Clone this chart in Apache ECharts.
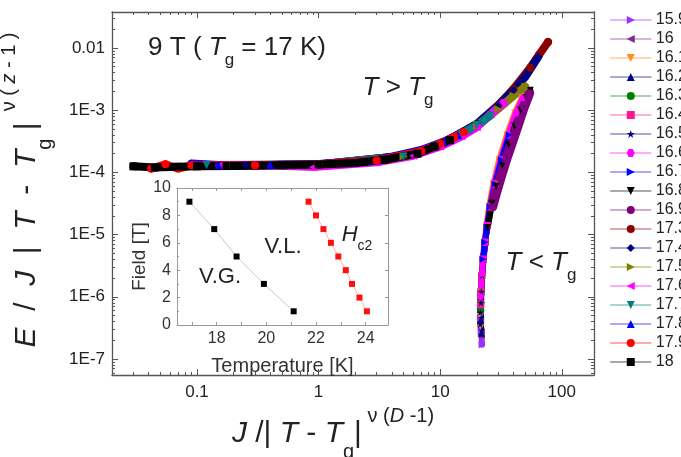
<!DOCTYPE html>
<html>
<head>
<meta charset="utf-8">
<script src="https://cdn.jsdelivr.net/npm/echarts@6/dist/echarts.min.js"></script>
<style>
html, body { margin: 0; padding: 0; background: #fff; }
#main { width: 681px; height: 457px; }
</style>
</head>
<body>
<div id="main"></div>
<script>
// legend order = draw order (later ones sit on top)
var temps = ['15.9', '16', '16.1', '16.2', '16.3', '16.4', '16.5', '16.6', '16.7', '16.8', '16.9',
             '17.3', '17.4', '17.5', '17.6', '17.7', '17.8', '17.9', '18'];

// T < Tg branch, [J/|T-Tg|^.., E/J|T-Tg|^..]
var s15_9 = [[22.1, 1.7e-7], [21.7, 2.8e-7], [21.4, 4.5e-7], [21.4, 7e-7], [21.6, 1.2e-6], [22.0, 2.2e-6], [22.6, 4e-6], [23.4, 7.5e-6], [24.4, 1.4e-5], [25.8, 2.8e-5]];
var s16_0 = [[21.8, 2.4e-7], [21.5, 4e-7], [21.4, 7e-7], [21.6, 1.2e-6], [22.0, 2.2e-6], [22.6, 4e-6], [23.4, 7.5e-6], [24.4, 1.4e-5], [25.8, 2.8e-5], [28.3, 6.5e-5]];
var s16_1 = [[21.5, 3.2e-7], [21.3, 4.8e-7], [21.3, 7e-7], [21.5, 1.2e-6], [21.9, 2.2e-6], [22.4, 4e-6], [23.1, 7.5e-6], [24.0, 1.4e-5], [25.2, 2.8e-5], [27.3, 6.5e-5], [30.5, 1.6e-4], [35.3, 4e-4], [41.0, 9e-4], [47.0, 1.6e-3]];
var s16_2 = [[21.8, 2.6e-7], [21.5, 4.2e-7], [21.4, 7e-7], [21.6, 1.2e-6], [22.0, 2.2e-6], [22.6, 4e-6], [23.4, 7.5e-6], [24.4, 1.4e-5]];
var s16_3 = [[21.6, 6e-7], [21.6, 8e-7], [21.7, 1.2e-6], [22.0, 2.2e-6], [22.6, 4e-6], [23.4, 7.5e-6], [24.4, 1.4e-5], [25.8, 2.8e-5]];
var s16_4 = [[21.6, 7.5e-7], [21.7, 1.2e-6], [22.0, 2.2e-6], [22.6, 4e-6], [23.4, 7.5e-6], [24.4, 1.4e-5], [25.8, 2.8e-5], [28.3, 6.5e-5]];
var s16_5 = [[21.9, 2.9e-7], [21.4, 3.6e-7], [21.7, 4.6e-7], [21.4, 5.6e-7], [21.7, 8e-7], [21.8, 1.2e-6], [22.1, 2.2e-6], [22.7, 4e-6], [23.5, 7.5e-6]];
var s16_6 = [[21.5, 1e-6], [21.8, 1.6e-6], [22.1, 2.4e-6], [22.6, 4e-6], [23.3, 7.5e-6], [24.2, 1.4e-5], [25.5, 2.8e-5], [27.8, 6.5e-5], [31.3, 1.6e-4], [36.2, 4e-4], [42.0, 9e-4], [48.0, 1.6e-3]];
var s16_7 = [[22.5, 4e-6], [23.3, 7.5e-6], [24.3, 1.3e-5], [25.8, 2.8e-5], [28.3, 6.5e-5], [32.0, 1.6e-4], [37.0, 4e-4]];
var s16_8 = [[24.6, 1.3e-5], [25.6, 2e-5], [26.6, 3.2e-5], [28.8, 6e-5], [32.5, 1.3e-4], [36.5, 2.8e-4], [41.0, 5.5e-4], [46.0, 1e-3], [51.0, 1.6e-3], [55.0, 2.1e-3]];
var s16_9 = [[26.8, 2.8e-5], [28.6, 4.5e-5], [31.2, 8e-5], [34.8, 1.6e-4], [39.3, 3.2e-4], [43.8, 6e-4], [48.5, 1.1e-3], [52.3, 1.6e-3], [54.0, 1.9e-3]];

// T > Tg branch
var s17_3 = [[0.3, 1.3e-4], [1, 1.34e-4], [5, 1.85e-4], [10, 2.8e-4], [20, 6e-4], [30, 1.2e-3], [40, 2.2e-3], [55, 4.8e-3], [65, 7.8e-3], [77, 1.25e-2]];
var s17_4 = [[0.25, 1.3e-4], [1, 1.34e-4], [5, 1.85e-4], [10, 2.8e-4], [20, 6e-4], [30, 1.2e-3], [40, 2.1e-3], [50, 3.4e-3], [64, 7.2e-3]];
var s17_5 = [[0.2, 1.3e-4], [1, 1.34e-4], [5, 1.8e-4], [10, 2.7e-4], [20, 5.5e-4], [30, 1.05e-3], [40, 1.7e-3], [50, 2.4e-3]];
var s17_6 = [[0.15, 1.28e-4], [0.5, 1.28e-4], [0.9, 1.22e-4], [3, 1.45e-4], [6, 1.85e-4], [10, 2.6e-4], [15, 3.8e-4], [20, 5.3e-4], [26, 8.6e-4], [33, 1.3e-3]];
var s17_7 = [[0.12, 1.3e-4], [1, 1.34e-4], [5, 1.8e-4], [10, 2.8e-4], [15, 4.2e-4], [20, 5.8e-4], [26, 8.2e-4]];
var s17_8 = [[0.09, 1.39e-4], [0.15, 1.31e-4], [0.4, 1.33e-4], [1, 1.36e-4], [3, 1.57e-4], [7, 2.3e-4], [11, 3.2e-4], [14, 4e-4]];
var s17_9 = [[0.042, 1.15e-4], [0.055, 1.35e-4], [0.07, 1.15e-4], [0.09, 1.3e-4], [0.3, 1.3e-4], [1, 1.35e-4], [3, 1.55e-4], [7, 2.2e-4], [10, 2.9e-4], [13, 3.7e-4], [15.6, 4.4e-4]];
var s18_0 = [[0.03, 1.25e-4], [0.045, 1.2e-4], [0.07, 1.23e-4], [0.1, 1.25e-4], [0.2, 1.27e-4], [0.5, 1.3e-4], [1, 1.34e-4], [2, 1.42e-4], [3.5, 1.6e-4], [6.5, 2e-4], [9, 2.6e-4], [12, 3.3e-4]];

var curves = [s15_9, s16_0, s16_1, s16_2, s16_3, s16_4, s16_5, s16_6, s16_7, s16_8, s16_9,
              s17_3, s17_4, s17_5, s17_6, s17_7, s17_8, s17_9, s18_0];

// inset: phase diagram
var tgTemp = [16.9, 17.9, 18.8, 19.9, 21.1];
var tgField = [9, 7, 5, 3, 1];
var hc2Temp = [21.7, 22.0, 22.3, 22.6, 22.9, 23.2, 23.45, 23.75, 24.05];
var hc2Field = [9, 8, 7, 6, 5, 4, 3, 2, 1];

var xMajor = [0.1, 1, 10, 100];
var yMajor = [1e-7, 1e-6, 1e-5, 1e-4, 1e-3, 0.01];
var insetXLabels = [18, 20, 22, 24];
var insetXTicks = [17, 18, 19, 20, 21, 22, 23, 24];

// marker styles
var colors = ['#9b30ff', '#7b2a8f', '#ff8c1a', '#000080', '#008000', '#ff1a8c', '#000080', '#ff00ff', '#0000ff', '#000000', '#800080',
              '#8b0000', '#000080', '#808000', '#ff00ff', '#008080', '#0000ff', '#ff0000', '#000000'];
var RIGHT = 'path://M0,0L10,5L0,10Z';
var LEFT = 'path://M10,0L0,5L10,10Z';
var DOWN = 'path://M0,0L10,0L5,10Z';
var STAR = 'path://M5,0L6.2,3.6L10,3.6L6.9,5.8L8.1,9.5L5,7.2L1.9,9.5L3.1,5.8L0,3.6L3.8,3.6Z';
var HEX = 'path://M2.5,0L7.5,0L10,5L7.5,10L2.5,10L0,5Z';
var shapes = [RIGHT, LEFT, DOWN, 'triangle', 'circle', 'rect', STAR, HEX, RIGHT, DOWN, 'circle',
              'circle', 'diamond', RIGHT, LEFT, DOWN, 'triangle', 'circle', 'rect'];

function minorTicks(lo, hi) {
    var out = [];
    for (var d = lo; d <= hi; d++) {
        for (var k = 2; k <= 9; k++) out.push(Number((k * Math.pow(10, d)).toPrecision(3)));
    }
    return out;
}
var xMinor = minorTicks(-2, 2);
var yMinor = minorTicks(-8, -2);

var FONT = 'Liberation Sans, Arial, sans-serif';
var frameColor = '#555';
var insetColor = '#999';

var myChart = echarts.init(document.getElementById('main'));

function frameAxis(base, extra) {
    return Object.assign({
        axisLine: { show: true, onZero: false, lineStyle: { color: frameColor, width: 1.3 } },
        splitLine: { show: false },
        axisLabel: { show: false },
        axisTick: { show: false }
    }, base, extra);
}

var xMain = { type: 'log', logBase: 10, min: 0.02, max: 184, gridIndex: 0 };
var yMain = { type: 'log', logBase: 10, min: 5.53e-8, max: 0.0379, gridIndex: 0 };

var xAxes = [
    frameAxis(xMain, {
        position: 'bottom',
        axisTick: { show: true, inside: true, length: 6, customValues: xMajor, lineStyle: { color: frameColor } },
        axisLabel: {
            show: true, customValues: xMajor, margin: 9, fontSize: 17, color: '#222', fontFamily: FONT,
            formatter: function (v) { return String(Number(v.toPrecision(3))); }
        }
    }),
    frameAxis(xMain, { position: 'bottom', axisLine: { show: false },
        axisTick: { show: true, inside: true, length: 3, customValues: xMinor, lineStyle: { color: frameColor } } }),
    frameAxis(xMain, { position: 'top',
        axisTick: { show: true, inside: true, length: 6, customValues: xMajor, lineStyle: { color: frameColor } } }),
    frameAxis(xMain, { position: 'top', axisLine: { show: false },
        axisTick: { show: true, inside: true, length: 3, customValues: xMinor, lineStyle: { color: frameColor } } }),
    // inset
    frameAxis({ type: 'value', min: 16.4, max: 24.9, gridIndex: 1 }, {
        position: 'bottom',
        axisLine: { show: true, onZero: false, lineStyle: { color: insetColor, width: 1 } },
        axisTick: { show: true, inside: true, length: 3, customValues: insetXTicks, lineStyle: { color: insetColor } },
        axisLabel: { show: true, customValues: insetXLabels, margin: 6, fontSize: 16, color: '#333', fontFamily: FONT },
        name: 'Temperature [K]', nameLocation: 'middle', nameGap: 31,
        nameTextStyle: { fontSize: 20, color: '#333', fontFamily: FONT }
    }),
    frameAxis({ type: 'value', min: 16.4, max: 24.9, gridIndex: 1 }, {
        position: 'top',
        axisLine: { show: true, onZero: false, lineStyle: { color: insetColor, width: 1 } },
        axisTick: { show: true, inside: true, length: 3, customValues: insetXTicks, lineStyle: { color: insetColor } }
    })
];

var yAxes = [
    frameAxis(yMain, {
        position: 'left',
        axisTick: { show: true, inside: true, length: 6, customValues: yMajor, lineStyle: { color: frameColor } },
        axisLabel: {
            show: true, customValues: yMajor, margin: 7, fontSize: 17, color: '#222', fontFamily: FONT,
            formatter: function (v) {
                var e = Math.round(Math.log10(v));
                return e === -2 ? '0.01' : '1E' + e;
            }
        }
    }),
    frameAxis(yMain, { position: 'left', axisLine: { show: false },
        axisTick: { show: true, inside: true, length: 3, customValues: yMinor, lineStyle: { color: frameColor } } }),
    frameAxis(yMain, { position: 'right',
        axisTick: { show: true, inside: true, length: 6, customValues: yMajor, lineStyle: { color: frameColor } } }),
    frameAxis(yMain, { position: 'right', axisLine: { show: false },
        axisTick: { show: true, inside: true, length: 3, customValues: yMinor, lineStyle: { color: frameColor } } }),
    frameAxis({ type: 'value', min: 0, max: 10, interval: 2, gridIndex: 1 }, {
        position: 'left',
        axisLine: { show: true, onZero: false, lineStyle: { color: insetColor, width: 1 } },
        axisTick: { show: true, inside: true, length: 3, lineStyle: { color: insetColor } },
        minorTick: { show: true, splitNumber: 2, length: 2, lineStyle: { color: insetColor } },
        axisLabel: { show: true, margin: 6, fontSize: 16, color: '#333', fontFamily: FONT },
        name: 'Field [T]', nameLocation: 'middle', nameGap: 23, nameRotate: 90,
        nameTextStyle: { fontSize: 19, color: '#333', fontFamily: FONT }
    }),
    frameAxis({ type: 'value', min: 0, max: 10, interval: 2, gridIndex: 1 }, {
        position: 'right',
        axisLine: { show: true, onZero: false, lineStyle: { color: insetColor, width: 1 } },
        axisTick: { show: true, inside: true, length: 3, lineStyle: { color: insetColor } }
    })
];

var series = temps.map(function (t, i) {
    var above = i >= 11;
    var w = above ? 8 : (t === '16.9' ? 10 : 6);
    return {
        name: t,
        type: 'line',
        xAxisIndex: 0,
        yAxisIndex: 0,
        data: curves[i],
        symbol: shapes[i],
        symbolSize: above ? 8 : 7,
        showSymbol: true,
        itemStyle: { color: colors[i] },
        lineStyle: { color: colors[i], width: w, cap: 'round', join: 'round' }
    };
});

series.push({
    name: 'Tg', type: 'line', xAxisIndex: 4, yAxisIndex: 4,
    data: tgTemp.map(function (t, i) { return [t, tgField[i]]; }),
    symbol: 'rect', symbolSize: 6,
    itemStyle: { color: '#000' },
    lineStyle: { color: '#c8c8c8', width: 1 }
});
series.push({
    name: 'Hc2', type: 'line', xAxisIndex: 4, yAxisIndex: 4,
    data: hc2Temp.map(function (t, i) { return [t, hc2Field[i]]; }),
    symbol: 'rect', symbolSize: 6,
    itemStyle: { color: '#ff1010' },
    lineStyle: { color: '#ffb0b0', width: 1 }
});

// text with sub- and superscripts, laid out as rich text tokens
function mathText(str, x, y, size, supSize, lh, rot) {
    return {
        type: 'text', x: x, y: y, rotation: rot || 0, z: 100,
        style: {
            text: str, align: 'center', verticalAlign: 'middle', fill: '#222',
            fontFamily: FONT, fontSize: size,
            rich: {
                m: { fontSize: size, fontStyle: 'italic', lineHeight: lh, fontFamily: FONT, fill: '#222' },
                n: { fontSize: size, lineHeight: lh, fontFamily: FONT, fill: '#222' },
                s: { fontSize: supSize, lineHeight: supSize + 6, verticalAlign: 'bottom', fontFamily: FONT, fill: '#222' },
                p: { fontSize: supSize, lineHeight: supSize - 4, verticalAlign: 'top', fontFamily: FONT, fill: '#222' },
                pi: { fontSize: supSize, fontStyle: 'italic', lineHeight: supSize - 4, verticalAlign: 'top', fontFamily: FONT, fill: '#222' }
            }
        }
    };
}

var option = {
    animation: false,
    backgroundColor: '#fff',
    textStyle: { fontFamily: FONT },
    grid: [
        { left: 112, top: 12, right: 87, bottom: 82 },
        { left: 177, top: 188, width: 211, height: 137, show: true, backgroundColor: '#fff', borderWidth: 0 }
    ],
    legend: {
        data: temps,
        orient: 'vertical',
        left: 605,
        top: 7,
        itemWidth: 40,
        itemHeight: 10,
        itemGap: 3,
        selectedMode: false,
        lineStyle: { width: 1.5, opacity: 0.45 },
        textStyle: { fontSize: 16, color: '#222', fontFamily: FONT }
    },
    xAxis: xAxes,
    yAxis: yAxes,
    series: series,
    graphic: [
        mathText('{n|9 T ( }{m|T}{s|g}{n| = 17 K)}', 237, 48, 26, 17, 42),
        mathText('{m|T}{n| > }{m|T}{s|g}', 398, 88, 26, 17, 42),
        mathText('{m|T}{n| < }{m|T}{s|g}', 541, 263, 26, 17, 42),
        mathText('{n|V.G.}', 220, 277, 22, 16, 30),
        mathText('{n|V.L.}', 283, 247, 22, 16, 30),
        mathText('{m|H}{s|c2}', 357, 235, 22, 14, 36),
        mathText('{m|J}{n| /| }{m|T}{n| - }{m|T}{s|g}{n||}{p| ν (}{pi|D}{p| -1)}', 333, 434, 30, 20, 56),
        mathText('{m|E}{n|  /  }{m|J}{n|  |  }{m|T}{n|  -  }{m|T}{s|g}{n| |}{p|  ν ( }{pi|z}{p| - 1 )}', 27, 190, 30, 20, 56, Math.PI / 2)
    ]
};

myChart.setOption(option);
</script>
</body>
</html>
